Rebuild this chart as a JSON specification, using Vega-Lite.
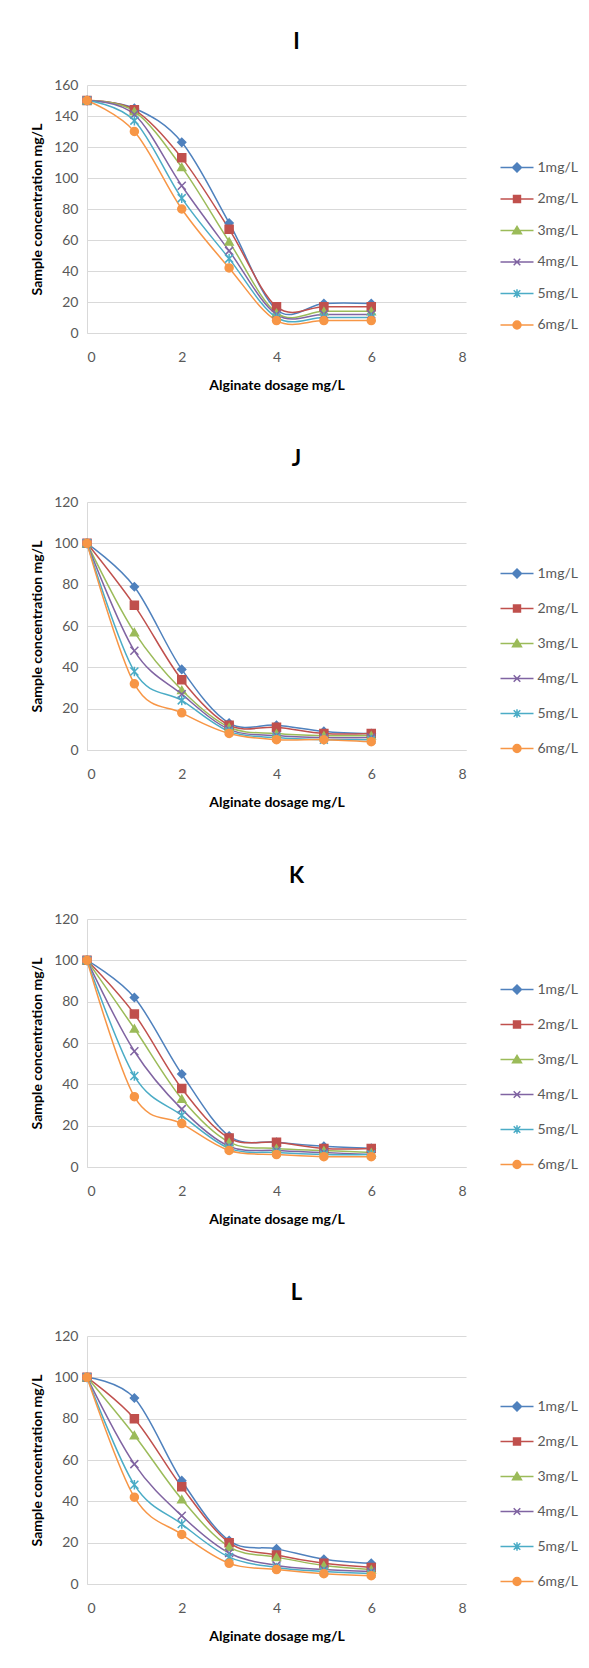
{
  "$schema": "https://vega.github.io/schema/vega-lite/v6.json",
  "padding": {"left": 30, "top": 31, "right": 5, "bottom": 5},
  "spacing": 56,
  "datasets": {
    "I": [
      {"series": "1mg/L", "x": 0, "y": 150}, {"series": "1mg/L", "x": 1, "y": 145}, {"series": "1mg/L", "x": 2, "y": 123}, {"series": "1mg/L", "x": 3, "y": 71}, {"series": "1mg/L", "x": 4, "y": 15}, {"series": "1mg/L", "x": 5, "y": 19}, {"series": "1mg/L", "x": 6, "y": 19},
      {"series": "2mg/L", "x": 0, "y": 150}, {"series": "2mg/L", "x": 1, "y": 144}, {"series": "2mg/L", "x": 2, "y": 113}, {"series": "2mg/L", "x": 3, "y": 67}, {"series": "2mg/L", "x": 4, "y": 17}, {"series": "2mg/L", "x": 5, "y": 17}, {"series": "2mg/L", "x": 6, "y": 17},
      {"series": "3mg/L", "x": 0, "y": 150}, {"series": "3mg/L", "x": 1, "y": 143}, {"series": "3mg/L", "x": 2, "y": 107}, {"series": "3mg/L", "x": 3, "y": 59}, {"series": "3mg/L", "x": 4, "y": 13}, {"series": "3mg/L", "x": 5, "y": 14}, {"series": "3mg/L", "x": 6, "y": 14},
      {"series": "4mg/L", "x": 0, "y": 150}, {"series": "4mg/L", "x": 1, "y": 141}, {"series": "4mg/L", "x": 2, "y": 95}, {"series": "4mg/L", "x": 3, "y": 53}, {"series": "4mg/L", "x": 4, "y": 12}, {"series": "4mg/L", "x": 5, "y": 12}, {"series": "4mg/L", "x": 6, "y": 12},
      {"series": "5mg/L", "x": 0, "y": 150}, {"series": "5mg/L", "x": 1, "y": 137}, {"series": "5mg/L", "x": 2, "y": 87}, {"series": "5mg/L", "x": 3, "y": 48}, {"series": "5mg/L", "x": 4, "y": 10}, {"series": "5mg/L", "x": 5, "y": 10}, {"series": "5mg/L", "x": 6, "y": 10},
      {"series": "6mg/L", "x": 0, "y": 150}, {"series": "6mg/L", "x": 1, "y": 130}, {"series": "6mg/L", "x": 2, "y": 80}, {"series": "6mg/L", "x": 3, "y": 42}, {"series": "6mg/L", "x": 4, "y": 8}, {"series": "6mg/L", "x": 5, "y": 8}, {"series": "6mg/L", "x": 6, "y": 8}
    ],
    "J": [
      {"series": "1mg/L", "x": 0, "y": 100}, {"series": "1mg/L", "x": 1, "y": 79}, {"series": "1mg/L", "x": 2, "y": 39}, {"series": "1mg/L", "x": 3, "y": 13}, {"series": "1mg/L", "x": 4, "y": 12}, {"series": "1mg/L", "x": 5, "y": 9}, {"series": "1mg/L", "x": 6, "y": 8},
      {"series": "2mg/L", "x": 0, "y": 100}, {"series": "2mg/L", "x": 1, "y": 70}, {"series": "2mg/L", "x": 2, "y": 34}, {"series": "2mg/L", "x": 3, "y": 12}, {"series": "2mg/L", "x": 4, "y": 11}, {"series": "2mg/L", "x": 5, "y": 8}, {"series": "2mg/L", "x": 6, "y": 8},
      {"series": "3mg/L", "x": 0, "y": 100}, {"series": "3mg/L", "x": 1, "y": 57}, {"series": "3mg/L", "x": 2, "y": 29}, {"series": "3mg/L", "x": 3, "y": 11}, {"series": "3mg/L", "x": 4, "y": 8}, {"series": "3mg/L", "x": 5, "y": 7}, {"series": "3mg/L", "x": 6, "y": 7},
      {"series": "4mg/L", "x": 0, "y": 100}, {"series": "4mg/L", "x": 1, "y": 48}, {"series": "4mg/L", "x": 2, "y": 27}, {"series": "4mg/L", "x": 3, "y": 10}, {"series": "4mg/L", "x": 4, "y": 7}, {"series": "4mg/L", "x": 5, "y": 6}, {"series": "4mg/L", "x": 6, "y": 6},
      {"series": "5mg/L", "x": 0, "y": 100}, {"series": "5mg/L", "x": 1, "y": 38}, {"series": "5mg/L", "x": 2, "y": 24}, {"series": "5mg/L", "x": 3, "y": 9}, {"series": "5mg/L", "x": 4, "y": 6}, {"series": "5mg/L", "x": 5, "y": 5}, {"series": "5mg/L", "x": 6, "y": 5},
      {"series": "6mg/L", "x": 0, "y": 100}, {"series": "6mg/L", "x": 1, "y": 32}, {"series": "6mg/L", "x": 2, "y": 18}, {"series": "6mg/L", "x": 3, "y": 8}, {"series": "6mg/L", "x": 4, "y": 5}, {"series": "6mg/L", "x": 5, "y": 5}, {"series": "6mg/L", "x": 6, "y": 4}
    ],
    "K": [
      {"series": "1mg/L", "x": 0, "y": 100}, {"series": "1mg/L", "x": 1, "y": 82}, {"series": "1mg/L", "x": 2, "y": 45}, {"series": "1mg/L", "x": 3, "y": 15}, {"series": "1mg/L", "x": 4, "y": 12}, {"series": "1mg/L", "x": 5, "y": 10}, {"series": "1mg/L", "x": 6, "y": 9},
      {"series": "2mg/L", "x": 0, "y": 100}, {"series": "2mg/L", "x": 1, "y": 74}, {"series": "2mg/L", "x": 2, "y": 38}, {"series": "2mg/L", "x": 3, "y": 14}, {"series": "2mg/L", "x": 4, "y": 12}, {"series": "2mg/L", "x": 5, "y": 9}, {"series": "2mg/L", "x": 6, "y": 9},
      {"series": "3mg/L", "x": 0, "y": 100}, {"series": "3mg/L", "x": 1, "y": 67}, {"series": "3mg/L", "x": 2, "y": 33}, {"series": "3mg/L", "x": 3, "y": 12}, {"series": "3mg/L", "x": 4, "y": 9}, {"series": "3mg/L", "x": 5, "y": 8}, {"series": "3mg/L", "x": 6, "y": 7},
      {"series": "4mg/L", "x": 0, "y": 100}, {"series": "4mg/L", "x": 1, "y": 56}, {"series": "4mg/L", "x": 2, "y": 28}, {"series": "4mg/L", "x": 3, "y": 10}, {"series": "4mg/L", "x": 4, "y": 8}, {"series": "4mg/L", "x": 5, "y": 7}, {"series": "4mg/L", "x": 6, "y": 6},
      {"series": "5mg/L", "x": 0, "y": 100}, {"series": "5mg/L", "x": 1, "y": 44}, {"series": "5mg/L", "x": 2, "y": 25}, {"series": "5mg/L", "x": 3, "y": 9}, {"series": "5mg/L", "x": 4, "y": 7}, {"series": "5mg/L", "x": 5, "y": 6}, {"series": "5mg/L", "x": 6, "y": 6},
      {"series": "6mg/L", "x": 0, "y": 100}, {"series": "6mg/L", "x": 1, "y": 34}, {"series": "6mg/L", "x": 2, "y": 21}, {"series": "6mg/L", "x": 3, "y": 8}, {"series": "6mg/L", "x": 4, "y": 6}, {"series": "6mg/L", "x": 5, "y": 5}, {"series": "6mg/L", "x": 6, "y": 5}
    ],
    "L": [
      {"series": "1mg/L", "x": 0, "y": 100}, {"series": "1mg/L", "x": 1, "y": 90}, {"series": "1mg/L", "x": 2, "y": 50}, {"series": "1mg/L", "x": 3, "y": 21}, {"series": "1mg/L", "x": 4, "y": 17}, {"series": "1mg/L", "x": 5, "y": 12}, {"series": "1mg/L", "x": 6, "y": 10},
      {"series": "2mg/L", "x": 0, "y": 100}, {"series": "2mg/L", "x": 1, "y": 80}, {"series": "2mg/L", "x": 2, "y": 47}, {"series": "2mg/L", "x": 3, "y": 20}, {"series": "2mg/L", "x": 4, "y": 14}, {"series": "2mg/L", "x": 5, "y": 10}, {"series": "2mg/L", "x": 6, "y": 8},
      {"series": "3mg/L", "x": 0, "y": 100}, {"series": "3mg/L", "x": 1, "y": 72}, {"series": "3mg/L", "x": 2, "y": 41}, {"series": "3mg/L", "x": 3, "y": 18}, {"series": "3mg/L", "x": 4, "y": 13}, {"series": "3mg/L", "x": 5, "y": 9}, {"series": "3mg/L", "x": 6, "y": 7},
      {"series": "4mg/L", "x": 0, "y": 100}, {"series": "4mg/L", "x": 1, "y": 58}, {"series": "4mg/L", "x": 2, "y": 33}, {"series": "4mg/L", "x": 3, "y": 15}, {"series": "4mg/L", "x": 4, "y": 9}, {"series": "4mg/L", "x": 5, "y": 7}, {"series": "4mg/L", "x": 6, "y": 6},
      {"series": "5mg/L", "x": 0, "y": 100}, {"series": "5mg/L", "x": 1, "y": 48}, {"series": "5mg/L", "x": 2, "y": 29}, {"series": "5mg/L", "x": 3, "y": 13}, {"series": "5mg/L", "x": 4, "y": 8}, {"series": "5mg/L", "x": 5, "y": 6}, {"series": "5mg/L", "x": 6, "y": 5},
      {"series": "6mg/L", "x": 0, "y": 100}, {"series": "6mg/L", "x": 1, "y": 42}, {"series": "6mg/L", "x": 2, "y": 24}, {"series": "6mg/L", "x": 3, "y": 10}, {"series": "6mg/L", "x": 4, "y": 7}, {"series": "6mg/L", "x": 5, "y": 5}, {"series": "6mg/L", "x": 6, "y": 4}
    ]
  },
  "vconcat": [
    {
      "title": "I",
      "width": 379, "height": 248,
      "data": {"name": "I"},
      "encoding": {
        "x": {"field": "x", "type": "quantitative", "scale": {"domain": [0, 8], "nice": false}, "axis": {"values": [0, 2, 4, 6, 8], "title": "Alginate dosage mg/L"}},
        "y": {"field": "y", "type": "quantitative", "scale": {"domain": [0, 160], "nice": false}, "axis": {"values": [0, 20, 40, 60, 80, 100, 120, 140, 160], "title": "Sample concentration mg/L"}}
      },
      "layer": [
        {"mark": {"type": "line", "interpolate": "cardinal", "strokeWidth": 1.5},
         "encoding": {"color": {"field": "series", "type": "nominal", "scale": {"domain": ["1mg/L", "2mg/L", "3mg/L", "4mg/L", "5mg/L", "6mg/L"], "range": ["#4F81BD", "#C0504D", "#9BBB59", "#8064A2", "#4BACC6", "#F79646"]}, "legend": null}}},
        {"mark": {"type": "point", "filled": true, "size": 64, "strokeWidth": 1.5, "opacity": 1},
         "encoding": {
           "fill": {"field": "series", "type": "nominal", "scale": {"domain": ["1mg/L", "2mg/L", "3mg/L", "4mg/L", "5mg/L", "6mg/L"], "range": ["#4F81BD", "#C0504D", "#9BBB59", "#8064A2", "#4BACC6", "#F79646"]}, "legend": null},
           "stroke": {"field": "series", "type": "nominal", "scale": {"domain": ["1mg/L", "2mg/L", "3mg/L", "4mg/L", "5mg/L", "6mg/L"], "range": ["#4F81BD", "#C0504D", "#9BBB59", "#8064A2", "#4BACC6", "#F79646"]}, "legend": null},
           "shape": {"field": "series", "type": "nominal", "scale": {"domain": ["1mg/L", "2mg/L", "3mg/L", "4mg/L", "5mg/L", "6mg/L"], "range": ["diamond", "square", "triangle-up", "M-1,-1L1,1M-1,1L1,-1", "M-1,-1L1,1M-1,1L1,-1M0,-1.2L0,1.2", "circle"]}, "legend": null}
         }},
        {"mark": {"type": "point", "filled": true, "opacity": 0},
         "encoding": {
           "fill": {"field": "series", "type": "nominal", "scale": {"domain": ["1mg/L", "2mg/L", "3mg/L", "4mg/L", "5mg/L", "6mg/L"], "range": ["#4F81BD", "#C0504D", "#9BBB59", "#8064A2", "#4BACC6", "#F79646"]}, "legend": {"title": null, "orient": "none", "legendX": 412.5, "legendY": 65, "symbolOpacity": 1, "symbolSize": 1089, "symbolStrokeWidth": 1.5, "labelOffset": 3, "rowPadding": 6.5}},
           "stroke": {"field": "series", "type": "nominal", "scale": {"domain": ["1mg/L", "2mg/L", "3mg/L", "4mg/L", "5mg/L", "6mg/L"], "range": ["#4F81BD", "#C0504D", "#9BBB59", "#8064A2", "#4BACC6", "#F79646"]}, "legend": {"title": null, "orient": "none", "legendX": 412.5, "legendY": 65, "symbolOpacity": 1, "symbolSize": 1089, "symbolStrokeWidth": 1.5, "labelOffset": 3, "rowPadding": 6.5}},
           "shape": {"field": "series", "type": "nominal", "scale": {"domain": ["1mg/L", "2mg/L", "3mg/L", "4mg/L", "5mg/L", "6mg/L"], "range": ["M-1,0L1,0M0,-0.27L0.27,0L0,0.27L-0.27,0Z", "M-1,0L1,0M-0.21,-0.21L0.21,-0.21L0.21,0.21L-0.21,0.21Z", "M-1,0L1,0M0,-0.25L0.27,0.2L-0.27,0.2Z", "M-1,0L1,0M-0.2,-0.2L0.2,0.2M-0.2,0.2L0.2,-0.2", "M-1,0L1,0M-0.2,-0.2L0.2,0.2M-0.2,0.2L0.2,-0.2M0,-0.26L0,0.26", "M-1,0L1,0M-0.24,0A0.24,0.24,0,1,0,0.24,0A0.24,0.24,0,1,0,-0.24,0Z"]}, "legend": {"title": null, "orient": "none", "legendX": 412.5, "legendY": 65, "symbolOpacity": 1, "symbolSize": 1089, "symbolStrokeWidth": 1.5, "labelOffset": 3, "rowPadding": 6.5}}
         }}
      ],
      "resolve": {"scale": {"color": "independent", "fill": "independent", "stroke": "independent", "shape": "independent"}}
    },
    {
      "title": "J",
      "width": 379, "height": 248,
      "data": {"name": "J"},
      "encoding": {
        "x": {"field": "x", "type": "quantitative", "scale": {"domain": [0, 8], "nice": false}, "axis": {"values": [0, 2, 4, 6, 8], "title": "Alginate dosage mg/L"}},
        "y": {"field": "y", "type": "quantitative", "scale": {"domain": [0, 120], "nice": false}, "axis": {"values": [0, 20, 40, 60, 80, 100, 120], "title": "Sample concentration mg/L"}}
      },
      "layer": [
        {"mark": {"type": "line", "interpolate": "cardinal", "strokeWidth": 1.5},
         "encoding": {"color": {"field": "series", "type": "nominal", "scale": {"domain": ["1mg/L", "2mg/L", "3mg/L", "4mg/L", "5mg/L", "6mg/L"], "range": ["#4F81BD", "#C0504D", "#9BBB59", "#8064A2", "#4BACC6", "#F79646"]}, "legend": null}}},
        {"mark": {"type": "point", "filled": true, "size": 64, "strokeWidth": 1.5, "opacity": 1},
         "encoding": {
           "fill": {"field": "series", "type": "nominal", "scale": {"domain": ["1mg/L", "2mg/L", "3mg/L", "4mg/L", "5mg/L", "6mg/L"], "range": ["#4F81BD", "#C0504D", "#9BBB59", "#8064A2", "#4BACC6", "#F79646"]}, "legend": null},
           "stroke": {"field": "series", "type": "nominal", "scale": {"domain": ["1mg/L", "2mg/L", "3mg/L", "4mg/L", "5mg/L", "6mg/L"], "range": ["#4F81BD", "#C0504D", "#9BBB59", "#8064A2", "#4BACC6", "#F79646"]}, "legend": null},
           "shape": {"field": "series", "type": "nominal", "scale": {"domain": ["1mg/L", "2mg/L", "3mg/L", "4mg/L", "5mg/L", "6mg/L"], "range": ["diamond", "square", "triangle-up", "M-1,-1L1,1M-1,1L1,-1", "M-1,-1L1,1M-1,1L1,-1M0,-1.2L0,1.2", "circle"]}, "legend": null}
         }},
        {"mark": {"type": "point", "filled": true, "opacity": 0},
         "encoding": {
           "fill": {"field": "series", "type": "nominal", "scale": {"domain": ["1mg/L", "2mg/L", "3mg/L", "4mg/L", "5mg/L", "6mg/L"], "range": ["#4F81BD", "#C0504D", "#9BBB59", "#8064A2", "#4BACC6", "#F79646"]}, "legend": {"title": null, "orient": "none", "legendX": 412.5, "legendY": 54, "symbolOpacity": 1, "symbolSize": 1089, "symbolStrokeWidth": 1.5, "labelOffset": 3, "rowPadding": 10}},
           "stroke": {"field": "series", "type": "nominal", "scale": {"domain": ["1mg/L", "2mg/L", "3mg/L", "4mg/L", "5mg/L", "6mg/L"], "range": ["#4F81BD", "#C0504D", "#9BBB59", "#8064A2", "#4BACC6", "#F79646"]}, "legend": {"title": null, "orient": "none", "legendX": 412.5, "legendY": 54, "symbolOpacity": 1, "symbolSize": 1089, "symbolStrokeWidth": 1.5, "labelOffset": 3, "rowPadding": 10}},
           "shape": {"field": "series", "type": "nominal", "scale": {"domain": ["1mg/L", "2mg/L", "3mg/L", "4mg/L", "5mg/L", "6mg/L"], "range": ["M-1,0L1,0M0,-0.27L0.27,0L0,0.27L-0.27,0Z", "M-1,0L1,0M-0.21,-0.21L0.21,-0.21L0.21,0.21L-0.21,0.21Z", "M-1,0L1,0M0,-0.25L0.27,0.2L-0.27,0.2Z", "M-1,0L1,0M-0.2,-0.2L0.2,0.2M-0.2,0.2L0.2,-0.2", "M-1,0L1,0M-0.2,-0.2L0.2,0.2M-0.2,0.2L0.2,-0.2M0,-0.26L0,0.26", "M-1,0L1,0M-0.24,0A0.24,0.24,0,1,0,0.24,0A0.24,0.24,0,1,0,-0.24,0Z"]}, "legend": {"title": null, "orient": "none", "legendX": 412.5, "legendY": 54, "symbolOpacity": 1, "symbolSize": 1089, "symbolStrokeWidth": 1.5, "labelOffset": 3, "rowPadding": 10}}
         }}
      ],
      "resolve": {"scale": {"color": "independent", "fill": "independent", "stroke": "independent", "shape": "independent"}}
    },
    {
      "title": "K",
      "width": 379, "height": 248,
      "data": {"name": "K"},
      "encoding": {
        "x": {"field": "x", "type": "quantitative", "scale": {"domain": [0, 8], "nice": false}, "axis": {"values": [0, 2, 4, 6, 8], "title": "Alginate dosage mg/L"}},
        "y": {"field": "y", "type": "quantitative", "scale": {"domain": [0, 120], "nice": false}, "axis": {"values": [0, 20, 40, 60, 80, 100, 120], "title": "Sample concentration mg/L"}}
      },
      "layer": [
        {"mark": {"type": "line", "interpolate": "cardinal", "strokeWidth": 1.5},
         "encoding": {"color": {"field": "series", "type": "nominal", "scale": {"domain": ["1mg/L", "2mg/L", "3mg/L", "4mg/L", "5mg/L", "6mg/L"], "range": ["#4F81BD", "#C0504D", "#9BBB59", "#8064A2", "#4BACC6", "#F79646"]}, "legend": null}}},
        {"mark": {"type": "point", "filled": true, "size": 64, "strokeWidth": 1.5, "opacity": 1},
         "encoding": {
           "fill": {"field": "series", "type": "nominal", "scale": {"domain": ["1mg/L", "2mg/L", "3mg/L", "4mg/L", "5mg/L", "6mg/L"], "range": ["#4F81BD", "#C0504D", "#9BBB59", "#8064A2", "#4BACC6", "#F79646"]}, "legend": null},
           "stroke": {"field": "series", "type": "nominal", "scale": {"domain": ["1mg/L", "2mg/L", "3mg/L", "4mg/L", "5mg/L", "6mg/L"], "range": ["#4F81BD", "#C0504D", "#9BBB59", "#8064A2", "#4BACC6", "#F79646"]}, "legend": null},
           "shape": {"field": "series", "type": "nominal", "scale": {"domain": ["1mg/L", "2mg/L", "3mg/L", "4mg/L", "5mg/L", "6mg/L"], "range": ["diamond", "square", "triangle-up", "M-1,-1L1,1M-1,1L1,-1", "M-1,-1L1,1M-1,1L1,-1M0,-1.2L0,1.2", "circle"]}, "legend": null}
         }},
        {"mark": {"type": "point", "filled": true, "opacity": 0},
         "encoding": {
           "fill": {"field": "series", "type": "nominal", "scale": {"domain": ["1mg/L", "2mg/L", "3mg/L", "4mg/L", "5mg/L", "6mg/L"], "range": ["#4F81BD", "#C0504D", "#9BBB59", "#8064A2", "#4BACC6", "#F79646"]}, "legend": {"title": null, "orient": "none", "legendX": 412.5, "legendY": 53, "symbolOpacity": 1, "symbolSize": 1089, "symbolStrokeWidth": 1.5, "labelOffset": 3, "rowPadding": 10}},
           "stroke": {"field": "series", "type": "nominal", "scale": {"domain": ["1mg/L", "2mg/L", "3mg/L", "4mg/L", "5mg/L", "6mg/L"], "range": ["#4F81BD", "#C0504D", "#9BBB59", "#8064A2", "#4BACC6", "#F79646"]}, "legend": {"title": null, "orient": "none", "legendX": 412.5, "legendY": 53, "symbolOpacity": 1, "symbolSize": 1089, "symbolStrokeWidth": 1.5, "labelOffset": 3, "rowPadding": 10}},
           "shape": {"field": "series", "type": "nominal", "scale": {"domain": ["1mg/L", "2mg/L", "3mg/L", "4mg/L", "5mg/L", "6mg/L"], "range": ["M-1,0L1,0M0,-0.27L0.27,0L0,0.27L-0.27,0Z", "M-1,0L1,0M-0.21,-0.21L0.21,-0.21L0.21,0.21L-0.21,0.21Z", "M-1,0L1,0M0,-0.25L0.27,0.2L-0.27,0.2Z", "M-1,0L1,0M-0.2,-0.2L0.2,0.2M-0.2,0.2L0.2,-0.2", "M-1,0L1,0M-0.2,-0.2L0.2,0.2M-0.2,0.2L0.2,-0.2M0,-0.26L0,0.26", "M-1,0L1,0M-0.24,0A0.24,0.24,0,1,0,0.24,0A0.24,0.24,0,1,0,-0.24,0Z"]}, "legend": {"title": null, "orient": "none", "legendX": 412.5, "legendY": 53, "symbolOpacity": 1, "symbolSize": 1089, "symbolStrokeWidth": 1.5, "labelOffset": 3, "rowPadding": 10}}
         }}
      ],
      "resolve": {"scale": {"color": "independent", "fill": "independent", "stroke": "independent", "shape": "independent"}}
    },
    {
      "title": "L",
      "width": 379, "height": 248,
      "data": {"name": "L"},
      "encoding": {
        "x": {"field": "x", "type": "quantitative", "scale": {"domain": [0, 8], "nice": false}, "axis": {"values": [0, 2, 4, 6, 8], "title": "Alginate dosage mg/L"}},
        "y": {"field": "y", "type": "quantitative", "scale": {"domain": [0, 120], "nice": false}, "axis": {"values": [0, 20, 40, 60, 80, 100, 120], "title": "Sample concentration mg/L"}}
      },
      "layer": [
        {"mark": {"type": "line", "interpolate": "cardinal", "strokeWidth": 1.5},
         "encoding": {"color": {"field": "series", "type": "nominal", "scale": {"domain": ["1mg/L", "2mg/L", "3mg/L", "4mg/L", "5mg/L", "6mg/L"], "range": ["#4F81BD", "#C0504D", "#9BBB59", "#8064A2", "#4BACC6", "#F79646"]}, "legend": null}}},
        {"mark": {"type": "point", "filled": true, "size": 64, "strokeWidth": 1.5, "opacity": 1},
         "encoding": {
           "fill": {"field": "series", "type": "nominal", "scale": {"domain": ["1mg/L", "2mg/L", "3mg/L", "4mg/L", "5mg/L", "6mg/L"], "range": ["#4F81BD", "#C0504D", "#9BBB59", "#8064A2", "#4BACC6", "#F79646"]}, "legend": null},
           "stroke": {"field": "series", "type": "nominal", "scale": {"domain": ["1mg/L", "2mg/L", "3mg/L", "4mg/L", "5mg/L", "6mg/L"], "range": ["#4F81BD", "#C0504D", "#9BBB59", "#8064A2", "#4BACC6", "#F79646"]}, "legend": null},
           "shape": {"field": "series", "type": "nominal", "scale": {"domain": ["1mg/L", "2mg/L", "3mg/L", "4mg/L", "5mg/L", "6mg/L"], "range": ["diamond", "square", "triangle-up", "M-1,-1L1,1M-1,1L1,-1", "M-1,-1L1,1M-1,1L1,-1M0,-1.2L0,1.2", "circle"]}, "legend": null}
         }},
        {"mark": {"type": "point", "filled": true, "opacity": 0},
         "encoding": {
           "fill": {"field": "series", "type": "nominal", "scale": {"domain": ["1mg/L", "2mg/L", "3mg/L", "4mg/L", "5mg/L", "6mg/L"], "range": ["#4F81BD", "#C0504D", "#9BBB59", "#8064A2", "#4BACC6", "#F79646"]}, "legend": {"title": null, "orient": "none", "legendX": 412.5, "legendY": 53, "symbolOpacity": 1, "symbolSize": 1089, "symbolStrokeWidth": 1.5, "labelOffset": 3, "rowPadding": 10}},
           "stroke": {"field": "series", "type": "nominal", "scale": {"domain": ["1mg/L", "2mg/L", "3mg/L", "4mg/L", "5mg/L", "6mg/L"], "range": ["#4F81BD", "#C0504D", "#9BBB59", "#8064A2", "#4BACC6", "#F79646"]}, "legend": {"title": null, "orient": "none", "legendX": 412.5, "legendY": 53, "symbolOpacity": 1, "symbolSize": 1089, "symbolStrokeWidth": 1.5, "labelOffset": 3, "rowPadding": 10}},
           "shape": {"field": "series", "type": "nominal", "scale": {"domain": ["1mg/L", "2mg/L", "3mg/L", "4mg/L", "5mg/L", "6mg/L"], "range": ["M-1,0L1,0M0,-0.27L0.27,0L0,0.27L-0.27,0Z", "M-1,0L1,0M-0.21,-0.21L0.21,-0.21L0.21,0.21L-0.21,0.21Z", "M-1,0L1,0M0,-0.25L0.27,0.2L-0.27,0.2Z", "M-1,0L1,0M-0.2,-0.2L0.2,0.2M-0.2,0.2L0.2,-0.2", "M-1,0L1,0M-0.2,-0.2L0.2,0.2M-0.2,0.2L0.2,-0.2M0,-0.26L0,0.26", "M-1,0L1,0M-0.24,0A0.24,0.24,0,1,0,0.24,0A0.24,0.24,0,1,0,-0.24,0Z"]}, "legend": {"title": null, "orient": "none", "legendX": 412.5, "legendY": 53, "symbolOpacity": 1, "symbolSize": 1089, "symbolStrokeWidth": 1.5, "labelOffset": 3, "rowPadding": 10}}
         }}
      ],
      "resolve": {"scale": {"color": "independent", "fill": "independent", "stroke": "independent", "shape": "independent"}}
    }
  ],
  "resolve": {"scale": {"color": "independent", "fill": "independent", "stroke": "independent", "shape": "independent"}, "legend": {"color": "independent", "fill": "independent", "stroke": "independent", "shape": "independent"}},
  "config": {
    "font": "Lato",
    "background": "white",
    "view": {"stroke": null},
    "title": {"fontSize": 22, "fontWeight": "bold", "color": "#000000", "anchor": "middle", "frame": "group", "dx": 20, "offset": 24, "baseline": "alphabetic"},
    "axis": {"labelFont": "Lato", "titleFont": "Lato", "labelFontSize": 14, "labelColor": "#595959", "titleFontSize": 14, "titleFontWeight": "bold", "titleColor": "#000000", "ticks": false, "domainColor": "#D9D9D9", "domainWidth": 1, "gridColor": "#D9D9D9", "gridWidth": 1},
    "axisX": {"grid": false, "labelPadding": 17, "titlePadding": 14},
    "axisY": {"grid": true, "labelPadding": 9, "titlePadding": 9},
    "legend": {"labelFont": "Lato", "labelFontSize": 14, "labelColor": "#595959", "padding": 0}
  }
}
